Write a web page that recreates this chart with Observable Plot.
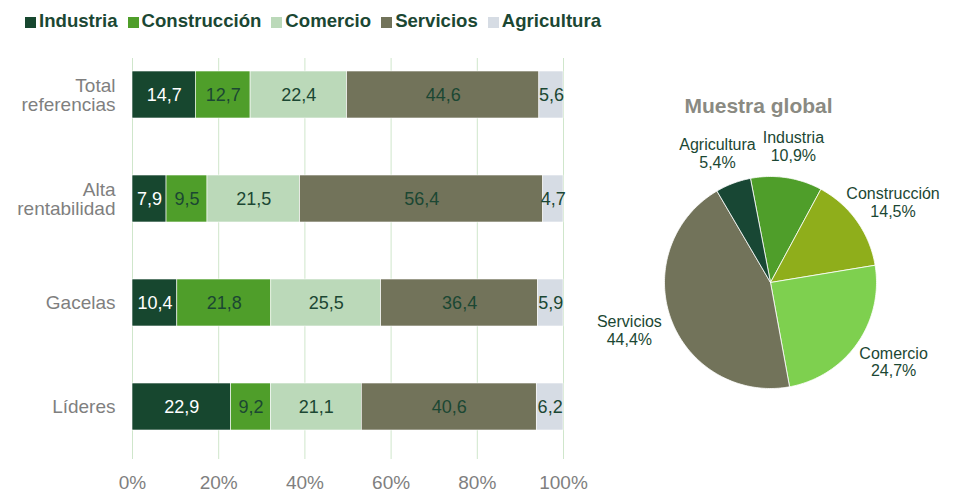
<!DOCTYPE html>
<html>
<head>
<meta charset="utf-8">
<script src="https://cdn.jsdelivr.net/npm/d3@7"></script>
<script src="https://cdn.jsdelivr.net/npm/@observablehq/plot@0.6"></script>
<style>
  body { margin: 0; background: #fff; font-family: "Liberation Sans", Arial, sans-serif; }
  #wrap { position: relative; width: 958px; height: 494px; overflow: hidden; background: #fff; }
  #legend { position: absolute; left: 25px; top: 10px; display: flex; align-items: center; font-weight: bold; font-size: 18.6px; color: #1b4733; white-space: nowrap; }
  .item { display: flex; align-items: center; margin-right: 10px; }
  .sw { width: 11px; height: 11px; margin-right: 3px; margin-top: 3px; }
  #bars { position: absolute; left: 0; top: 0; }
  #pie { position: absolute; left: 600px; top: 0; }
  #pie svg { overflow: visible; }
</style>
</head>
<body>
<div id="wrap">
  <div id="bars"></div>
  <div id="pie"></div>
  <div id="legend"></div>
</div>
<script>
// ---- Data ----
const sectors = ["Industria", "Construcción", "Comercio", "Servicios", "Agricultura"];
const groups = ["Total\nreferencias", "Alta\nrentabilidad", "Gacelas", "Líderes"];
const totalReferencias = [14.7, 12.7, 22.4, 44.6, 5.6];
const altaRentabilidad = [7.9, 9.5, 21.5, 56.4, 4.7];
const gacelas = [10.4, 21.8, 25.5, 36.4, 5.9];
const lideres = [22.9, 9.2, 21.1, 40.6, 6.2];
const xTicks = [0, 20, 40, 60, 80, 100];
const pieTitle = "Muestra global";
const pieValues = [10.9, 14.5, 24.7, 44.4, 5.4]; // same order as sectors

// ---- Styles ----
const barColors = ["#17472f", "#4f9e2a", "#bbd9b9", "#72735a", "#d6dce4"];
const pieColors = ["#4f9e2a", "#8fae1b", "#7ed04f", "#72735a", "#184734"];
const labelDark = "#1b4733";
const axisGray = "#7f7f7f";
const fontFamily = "'Liberation Sans', Arial, sans-serif";
const fmt = v => d3.format(".1f")(v).replace(".", ",");

// ---- Legend ----
const legend = document.getElementById("legend");
sectors.forEach((s, i) => {
  const it = document.createElement("div");
  it.className = "item";
  const sw = document.createElement("span");
  sw.className = "sw";
  sw.style.background = barColors[i];
  const tx = document.createElement("span");
  tx.textContent = s;
  it.appendChild(sw); it.appendChild(tx);
  legend.appendChild(it);
});

// ---- Bars ----
const seriesByGroup = [totalReferencias, altaRentabilidad, gacelas, lideres];
const rows = [];
groups.forEach((g, gi) => sectors.forEach((s, si) => rows.push({group: g, sector: s, value: seriesByGroup[gi][si]})));

const barPlot = Plot.plot({
  width: 600,
  height: 494,
  marginLeft: 132,
  marginRight: 37,
  marginTop: 42,
  marginBottom: 35,
  style: {fontFamily, background: "transparent"},
  x: {domain: [0, 100], ticks: xTicks, label: null},
  y: {domain: groups, paddingInner: 0.55, paddingOuter: 0.275, label: null},
  color: {domain: sectors, range: barColors},
  marks: [
    Plot.ruleX(xTicks, {stroke: "#cfe6cb", strokeWidth: 1, insetTop: 16}),
    Plot.barX(rows, Plot.stackX({x: "value", y: "group", fill: "sector", order: sectors, stroke: "white", strokeWidth: 0.6})),
    Plot.text(rows, Plot.stackX({x: "value", y: "group", z: "sector", order: sectors, text: d => d.sector === "Industria" ? fmt(d.value) : "", fill: "white", fontSize: 18})),
    Plot.text(rows, Plot.stackX({x: "value", y: "group", z: "sector", order: sectors, text: d => d.sector !== "Industria" ? fmt(d.value) : "", fill: labelDark, fontSize: 18})),
    Plot.axisY({tickSize: 0, tickPadding: 17, fontSize: 19, color: axisGray, label: null}),
    Plot.axisX({ticks: xTicks, tickFormat: d => d + "%", tickSize: 0, tickPadding: 16, fontSize: 19, color: axisGray, label: null})
  ]
});
document.getElementById("bars").appendChild(barPlot);

// ---- Pie ----
const total = d3.sum(pieValues);
const startDeg = -10.9;
const slicePts = [];
const labelPts = [];
let acc = 0;
sectors.forEach((s, i) => {
  const a0 = (startDeg + acc / total * 360) * Math.PI / 180;
  acc += pieValues[i];
  const a1 = (startDeg + acc / total * 360) * Math.PI / 180;
  slicePts.push({sector: s, x: 0, y: 0});
  const n = Math.max(2, Math.ceil((a1 - a0) / (Math.PI / 180)));
  for (let k = 0; k <= n; k++) {
    const a = a0 + (a1 - a0) * k / n;
    slicePts.push({sector: s, x: Math.sin(a), y: Math.cos(a)});
  }
  slicePts.push({sector: s, x: 0, y: 0});
  const am = (a0 + a1) / 2;
  labelPts.push({sector: s, value: pieValues[i], x: 1.42 * Math.sin(am), y: 1.3 * Math.cos(am)});
});

const R = 106, cx = 170, cy = 282, W = 358, H = 494;
const piePlot = Plot.plot({
  width: W,
  height: H,
  margin: 0,
  style: {fontFamily, background: "transparent", overflow: "visible"},
  x: {domain: [-cx / R, (W - cx) / R], axis: null},
  y: {domain: [-(H - cy) / R, cy / R], axis: null},
  color: {domain: sectors, range: pieColors},
  marks: [
    Plot.line(slicePts, {x: "x", y: "y", z: "sector", fill: "sector", stroke: "white", strokeWidth: 0.8, curve: "linear"}),
    Plot.text(labelPts, {x: "x", y: "y", text: d => d.sector + "\n" + fmt(d.value) + "%", fill: labelDark, fontSize: 16, lineHeight: 1.1}),
    Plot.text([pieTitle], {frameAnchor: "top", dx: -21, dy: 98, text: d => d, fill: "#8a8a82", fontSize: 21, fontWeight: "bold"})
  ]
});
document.getElementById("pie").appendChild(piePlot);
</script>
</body>
</html>
